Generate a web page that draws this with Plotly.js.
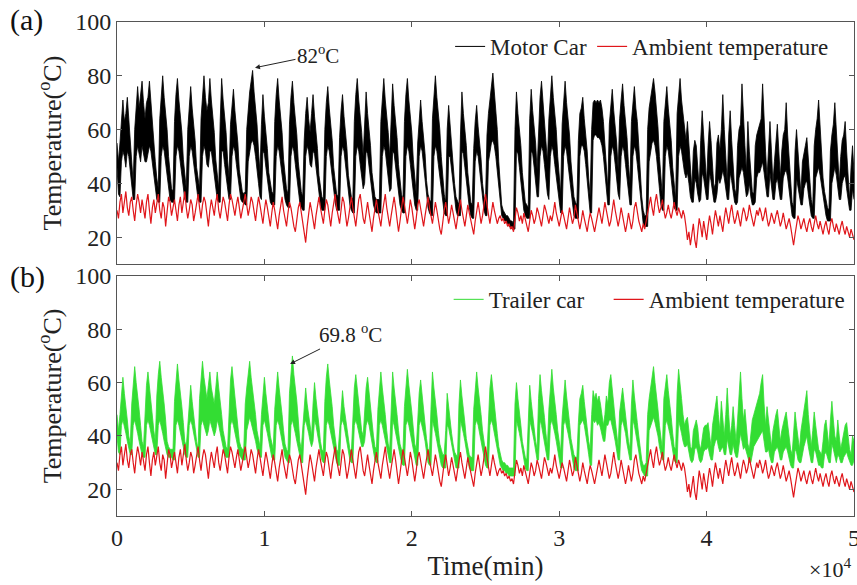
<!DOCTYPE html>
<html>
<head>
<meta charset="utf-8">
<script src="https://cdn.plot.ly/plotly-3.0.1.min.js"></script>
<style>html,body{margin:0;padding:0;background:#fff}#chart{width:857px;height:585px}</style>
</head>
<body>
<div id="chart"></div>
<script>
// Sampling bin of the recorded series (min); dense records shown as per-bin max / min envelope
const stepMin = 100;

// Motor car temperature (°C): per-bin maximum, 0..50000 min
const motorCarMax = [
55,48,55,65,71,63,66,72,64,58,
48,40,60,70,76,68,72,78,70,64,
70,72,78,70,65,58,48,42,38,64,
74,80,72,67,60,50,42,38,37,63,
73,79,71,66,59,49,42,38,60,70,
76,68,63,56,46,42,38,64,74,80,
72,67,70,79,71,66,59,49,42,38,
63,79,71,66,59,49,42,62,69,75,
67,62,55,45,40,37,36,37,60,68,
74,78,82,74,68,62,52,44,62,73,
65,60,53,44,40,37,36,63,73,79,
71,66,59,49,42,38,36,62,72,78,
70,65,58,48,41,37,35,56,66,72,
64,59,66,73,65,60,53,43,38,35,
34,60,70,76,68,63,56,46,40,36,
35,57,67,73,65,60,53,43,38,35,
34,63,73,79,71,66,59,50,66,74,
66,61,54,44,38,35,34,34,34,63,
73,79,71,66,59,50,66,77,69,64,
57,47,40,36,34,63,73,79,71,66,
59,49,41,36,55,65,71,63,58,51,
41,36,34,33,64,74,80,72,67,60,
50,42,36,33,60,69,61,56,49,40,
35,33,32,58,74,66,61,54,44,37,
33,32,53,63,69,61,56,49,40,35,
33,58,66,72,76,81,74,68,60,48,
38,32,30,29,28,28,27,26,26,25,
60,74,66,61,54,44,37,33,32,31,
64,75,67,62,55,45,62,72,78,70,
65,58,48,64,74,80,72,67,60,50,
42,36,62,72,78,70,65,58,48,40,
35,33,32,56,66,68,72,64,59,52,
42,35,60,70,71,70,71,70,71,68,
63,55,45,38,62,69,75,67,62,55,
45,64,71,77,69,64,57,47,40,63,
70,76,68,63,54,44,35,30,28,28,
60,68,72,74,79,74,68,61,50,40,
35,63,70,76,68,63,56,46,38,34,
66,73,79,71,66,60,56,63,54,44,
38,52,56,54,46,38,56,67,58,48,
40,54,63,56,46,38,40,55,58,52,
60,73,60,50,40,58,67,56,46,38,
36,54,60,62,77,62,54,44,63,52,
44,37,36,54,58,60,62,64,77,62,
52,42,56,63,52,40,48,56,62,52,
42,52,58,60,70,58,48,38,33,31,
52,60,52,42,36,48,52,54,57,48,
40,34,31,54,60,64,71,60,52,42,
37,33,31,30,52,58,62,70,60,50,
40,50,56,58,63,52,42,34,46,54,
44
];

// Motor car temperature (°C): per-bin minimum
const motorCarMin = [
46,36,35,48,52,50,46,52,50,44,
38,34,34,50,54,50,48,54,50,48,
48,52,54,52,47,42,37,34,33,33,
50,54,52,47,42,37,34,33,33,33,
50,54,52,47,42,37,34,33,33,50,
54,52,47,42,37,34,33,33,50,54,
52,47,46,52,52,47,42,37,34,33,
33,52,52,47,42,37,34,34,50,54,
52,47,42,37,34,33,33,32,32,48,
52,55,56,54,50,46,40,35,34,52,
51,46,41,36,33,32,32,32,50,54,
52,47,42,37,34,32,31,31,50,54,
52,47,42,37,33,31,30,30,50,54,
52,47,46,52,51,46,41,36,32,30,
30,30,50,54,52,47,42,37,33,30,
30,30,50,54,52,47,42,36,32,30,
29,29,50,54,52,47,42,38,40,52,
51,46,41,36,32,30,29,29,29,29,
50,54,52,47,42,37,38,52,51,46,
41,36,32,30,29,29,50,54,52,47,
42,37,32,30,30,50,54,52,47,42,
36,31,29,28,28,50,54,52,47,42,
37,32,29,28,28,50,50,45,40,34,
30,28,28,28,52,51,46,41,35,31,
28,27,27,48,52,50,45,40,34,30,
28,28,48,52,55,56,54,50,44,37,
31,28,27,26,26,25,24,24,23,23,
23,52,51,46,41,35,30,28,27,27,
27,52,51,46,41,35,35,50,54,52,
47,42,36,34,50,54,52,47,42,37,
32,29,29,50,54,52,47,42,36,31,
28,27,27,27,50,54,54,52,47,41,
35,29,29,56,58,58,57,57,56,54,
50,44,37,32,32,50,54,52,47,42,
36,34,50,54,52,47,42,36,32,32,
50,54,52,47,41,34,28,25,24,24,
24,48,52,55,56,54,50,45,38,32,
30,30,50,54,52,47,42,36,31,30,
30,50,54,52,47,44,42,44,40,35,
33,33,42,40,36,33,34,44,42,37,
34,34,44,41,36,33,33,36,42,40,
42,45,42,37,34,34,44,41,36,33,
32,33,42,44,46,44,40,35,36,40,
35,32,32,33,42,44,44,46,48,44,
39,35,35,44,39,34,34,40,42,38,
34,34,42,44,45,42,37,31,28,27,
27,42,39,35,32,32,38,40,41,36,
32,28,27,27,42,44,46,43,39,35,
32,28,26,26,26,40,44,46,43,38,
34,34,40,42,43,38,34,30,30,38,
34
];

// Trailer car temperature (°C): per-bin maximum
const trailerCarMax = [
48,42,48,57,62,56,52,46,40,37,
52,60,66,60,56,50,44,38,36,50,
59,64,58,54,48,42,38,55,63,68,
62,58,52,46,38,36,35,35,35,53,
62,67,61,57,51,45,38,36,45,54,
59,53,49,43,38,35,54,63,68,62,
58,54,59,64,58,55,52,58,64,58,
54,48,42,38,36,35,52,61,66,60,
56,50,44,38,36,35,35,52,58,63,
68,62,58,54,48,42,38,36,48,57,
62,56,52,46,40,37,35,50,59,64,
58,54,48,42,37,35,34,56,64,70,
63,59,53,46,38,35,44,53,58,52,
48,44,40,52,60,54,50,44,38,35,
34,53,62,67,61,57,51,44,38,35,
34,43,52,57,51,47,42,38,35,34,
49,58,63,57,53,47,42,40,52,58,
62,56,52,46,40,36,35,50,59,64,
58,54,48,42,37,35,50,64,58,54,
48,42,37,35,34,51,60,65,59,55,
49,43,37,35,47,56,61,55,51,45,
39,35,34,50,64,58,54,48,42,37,
35,33,33,42,56,50,46,41,37,34,
33,32,52,61,55,51,45,39,35,33,
32,32,50,59,64,58,54,48,42,37,
34,33,49,58,63,57,53,47,41,36,
33,31,30,30,29,29,28,28,28,28,
52,60,54,50,44,38,34,32,31,45,
59,53,49,43,38,35,54,63,57,53,
47,41,36,50,60,65,58,54,48,42,
37,34,47,56,61,55,51,45,39,35,
33,32,32,45,54,56,59,53,49,43,
38,35,48,57,54,56,53,55,52,48,
44,48,55,52,60,63,56,52,46,40,
36,49,55,58,53,49,43,38,35,52,
61,55,51,45,40,35,31,29,29,30,
48,54,58,62,66,60,56,50,44,38,
35,54,58,63,57,53,47,41,36,35,
56,65,58,54,48,44,46,47,42,36,
35,42,44,46,43,37,35,40,43,44,
44,45,40,36,44,48,52,55,48,42,
53,47,40,48,58,48,40,44,51,44,
38,46,56,64,54,46,50,43,37,35,
40,46,48,50,52,54,56,60,63,52,
44,51,46,40,36,42,46,48,50,44,
38,42,45,47,49,44,38,35,33,40,
49,44,38,35,42,46,50,54,57,48,
40,36,42,49,44,38,35,34,33,38,
44,46,40,36,46,53,46,40,38,46,
40,35,38,42,44,45,40,35,33,40,
38
];

// Trailer car temperature (°C): per-bin minimum
const trailerCarMin = [
40,34,33,44,46,44,41,38,35,33,
33,44,46,44,41,38,35,33,32,32,
44,46,44,41,38,35,33,33,44,46,
44,41,38,35,33,32,32,32,31,31,
44,46,44,41,38,35,33,32,32,44,
46,44,41,37,34,32,32,44,46,44,
41,40,42,46,44,42,40,42,46,44,
41,38,35,33,32,32,32,44,46,44,
41,38,35,33,32,31,31,31,42,45,
47,45,43,41,38,35,33,32,32,44,
46,44,41,38,35,32,31,31,44,46,
44,41,38,35,32,31,30,30,44,46,
44,41,38,35,32,30,30,44,46,44,
41,38,36,38,46,44,41,38,34,31,
30,30,44,46,44,41,38,35,32,30,
29,29,44,46,44,41,37,34,31,30,
30,44,46,44,41,38,36,36,38,44,
46,44,41,38,35,31,30,30,44,46,
44,41,38,35,32,30,30,46,44,41,
38,35,32,30,29,29,44,46,44,41,
38,35,31,29,29,44,46,44,41,38,
34,30,29,29,46,44,41,38,35,31,
29,28,28,28,44,43,40,37,33,30,
28,28,28,46,44,41,38,34,30,28,
27,27,27,44,46,44,41,38,34,31,
29,28,28,44,46,44,41,38,34,31,
29,28,27,27,26,26,25,25,25,25,
25,46,44,41,38,34,30,28,27,27,
46,44,41,38,34,31,31,46,44,41,
38,34,31,31,44,46,44,41,38,34,
30,28,28,44,46,44,41,38,34,30,
28,27,27,27,44,45,46,44,41,37,
33,29,29,46,45,46,44,45,43,40,
38,38,44,44,46,46,44,41,38,34,
31,31,44,46,44,41,37,33,31,31,
46,44,41,38,34,30,27,26,25,25,
25,42,44,46,47,45,43,40,36,33,
31,31,44,46,44,41,38,34,31,30,
30,46,44,41,38,36,36,37,34,31,
30,31,35,36,34,31,30,31,34,35,
35,36,33,31,31,36,38,39,36,34,
35,36,33,33,39,36,33,33,37,34,
32,32,38,41,38,35,36,34,31,30,
30,34,36,37,38,39,40,41,42,38,
34,34,35,32,30,30,34,35,36,34,
31,31,34,35,36,34,31,29,28,28,
35,34,31,30,30,34,36,38,40,36,
32,30,30,35,34,31,29,29,28,28,
33,34,32,30,30,37,35,32,30,33,
32,30,30,32,33,34,32,30,29,29,
31
];

// Ambient temperature (°C), one value every 100 min (same record in both panels)
const ambient = [
30,27,33,36,29,34,37,31,28,33,
35,30,26,32,36,33,29,34,31,27,
33,36,30,25,31,34,29,32,36,30,
27,33,31,24,30,35,33,28,31,34,
30,26,32,35,29,33,37,31,27,30,
34,32,26,29,33,36,31,27,32,35,
33,29,24,30,34,31,28,33,36,30,
27,31,35,33,29,26,32,36,34,30,
28,32,35,31,27,30,34,36,32,28,
31,35,33,29,26,31,35,32,28,25,
30,34,31,27,24,29,33,30,26,23,
28,32,35,30,26,24,29,33,31,27,
24,22,27,31,33,29,25,21,18,24,
29,33,30,26,23,28,32,35,31,27,
25,30,34,32,28,24,29,33,36,31,
27,25,30,35,33,28,24,27,32,35,
31,27,24,29,34,36,31,27,25,30,
33,29,26,22,27,31,34,30,26,24,
29,33,36,31,27,24,28,32,35,31,
27,22,26,31,35,32,28,25,29,34,
31,27,23,27,32,34,30,26,24,28,
32,35,31,27,25,29,33,30,26,23,
21,26,30,33,29,25,28,32,29,25,
23,27,31,34,30,26,24,28,32,29,
26,24,21,26,30,33,29,25,28,32,
36,32,28,25,29,33,30,27,25,27,
28,26,27,25,26,24,25,23,24,22,
27,31,29,26,28,25,29,27,24,22,
26,30,28,25,27,31,29,26,24,28,
32,30,27,25,28,26,29,33,29,26,
24,27,30,28,25,23,27,31,28,25,
27,32,29,26,23,26,30,27,24,22,
26,29,27,24,22,25,28,31,28,25,
29,33,30,27,24,26,31,34,30,26,
24,27,31,28,25,22,25,29,26,23,
26,31,33,29,26,24,22,25,23,26,
29,32,35,31,28,33,36,32,29,31,
34,30,27,29,32,29,27,30,33,30,
28,31,29,27,30,28,24,19,22,17,
21,25,19,16,22,27,24,20,26,23,
19,24,28,25,21,26,30,27,24,28,
25,22,27,31,28,25,29,32,28,25,
27,30,27,24,28,31,29,26,28,32,
29,26,24,27,30,28,31,29,26,28,
31,27,24,26,29,27,25,28,30,27,
24,26,29,26,23,25,27,24,20,17,
21,25,28,26,23,25,27,24,22,25,
27,24,22,25,28,25,23,26,24,21,
24,26,23,21,25,27,24,22,25,23,
21,24,26,23,21,24,22,20,23,21,
19
];

const xTickVals = [0, 10000, 20000, 30000, 40000, 50000];
const xTickText = ['0', '1', '2', '3', '4', '5'];
const yTickVals = [20, 40, 60, 80, 100];

const tAxis = arr => arr.map((_, i) => i * stepMin);

const FONT = 'Liberation Serif, Times New Roman, serif';
const BLACK = '#000000';
const RED = '#e0161b';
const GREEN = '#33dd33';

const traces = [
  // panel (a)
  {x: tAxis(motorCarMin), y: motorCarMin, type: 'scatter', mode: 'lines', showlegend: false, hoverinfo: 'skip',
   line: {color: BLACK, width: 0.8}, xaxis: 'x', yaxis: 'y'},
  {x: tAxis(motorCarMax), y: motorCarMax, type: 'scatter', mode: 'lines', showlegend: false, fill: 'tonexty',
   fillcolor: BLACK, line: {color: BLACK, width: 0.8}, xaxis: 'x', yaxis: 'y'},
  {x: [null], y: [null], type: 'scatter', mode: 'lines', name: 'Motor Car', line: {color: BLACK, width: 1},
   xaxis: 'x', yaxis: 'y', legend: 'legend', legendwidth: 97},
  {x: tAxis(ambient), y: ambient, type: 'scatter', mode: 'lines', name: 'Ambient temperature',
   line: {color: RED, width: 1.2}, xaxis: 'x', yaxis: 'y', legend: 'legend'},
  // panel (b)
  {x: tAxis(trailerCarMin), y: trailerCarMin, type: 'scatter', mode: 'lines', showlegend: false, hoverinfo: 'skip',
   line: {color: GREEN, width: 0.8}, xaxis: 'x2', yaxis: 'y2'},
  {x: tAxis(trailerCarMax), y: trailerCarMax, type: 'scatter', mode: 'lines', showlegend: false, fill: 'tonexty',
   fillcolor: GREEN, line: {color: GREEN, width: 0.8}, xaxis: 'x2', yaxis: 'y2'},
  {x: [null], y: [null], type: 'scatter', mode: 'lines', name: 'Trailer car', line: {color: GREEN, width: 1},
   xaxis: 'x2', yaxis: 'y2', legend: 'legend2', legendwidth: 115},
  {x: tAxis(ambient), y: ambient, type: 'scatter', mode: 'lines', name: 'Ambient temperature',
   line: {color: RED, width: 1.2}, xaxis: 'x2', yaxis: 'y2', legend: 'legend2'}
];

const axBase = {
  showline: true, linecolor: '#555', linewidth: 1, mirror: 'ticks',
  ticks: 'inside', ticklen: 5, tickcolor: '#555', showgrid: false, zeroline: false,
  tickfont: {family: FONT, size: 24, color: '#222'}
};

const yTitle = {text: 'Temperature(<sup>o</sup>C)', font: {family: FONT, size: 26, color: '#222'}, standoff: 6};

const legendBase = {
  orientation: 'h', bgcolor: 'rgba(0,0,0,0)', borderwidth: 0,
  font: {family: FONT, size: 23, color: '#222'}, itemwidth: 30,
  xanchor: 'left', yanchor: 'top', traceorder: 'normal'
};

const layout = {
  width: 857, height: 585,
  margin: {l: 117, r: 3, t: 22, b: 69},
  paper_bgcolor: '#fff', plot_bgcolor: '#fff',
  font: {family: FONT, color: '#222'},
  xaxis: Object.assign({}, axBase, {domain: [0, 1], range: [0, 50000], tickvals: xTickVals, ticktext: xTickText, showticklabels: false, anchor: 'y'}),
  yaxis: Object.assign({}, axBase, {domain: [0.510, 1], range: [10, 100], tickvals: yTickVals, title: yTitle, anchor: 'x'}),
  xaxis2: Object.assign({}, axBase, {domain: [0, 1], range: [0, 50000], tickvals: xTickVals, ticktext: xTickText, anchor: 'y2',
    ticklabeloverflow: 'allow',
    title: {text: 'Time(min)', font: {family: FONT, size: 27, color: '#222'}, standoff: 6}}),
  yaxis2: Object.assign({}, axBase, {domain: [0, 0.486], range: [10, 100], tickvals: yTickVals, title: yTitle, anchor: 'x2'}),
  legend: Object.assign({}, legendBase, {x: 0.452, y: 0.994}),
  legend2: Object.assign({}, legendBase, {x: 0.45, y: 0.482}),
  showlegend: true,
  annotations: [
    {xref: 'paper', yref: 'paper', x: -0.148, y: 1.004, text: '(a)', showarrow: false, xanchor: 'left', yanchor: 'middle',
     font: {family: FONT, size: 30, color: '#111'}},
    {xref: 'paper', yref: 'paper', x: -0.148, y: 0.484, text: '(b)', showarrow: false, xanchor: 'left', yanchor: 'middle',
     font: {family: FONT, size: 30, color: '#111'}},
    {xref: 'x', yref: 'y', x: 9360, y: 83, text: '82<sup>o</sup>C', showarrow: true, arrowhead: 2, arrowsize: 1, arrowwidth: 1,
     arrowcolor: '#222', ax: 63, ay: -13, font: {family: FONT, size: 21, color: '#222'}},
    {xref: 'x2', yref: 'y2', x: 11740, y: 67, text: '69.8 <sup>o</sup>C', showarrow: true, arrowhead: 2, arrowsize: 1, arrowwidth: 1,
     arrowcolor: '#222', ax: 60, ay: -30, font: {family: FONT, size: 21, color: '#222'}},
    {xref: 'paper', yref: 'paper', x: 0.9986, y: -0.138, text: '×10<sup>4</sup>', showarrow: false, xanchor: 'right', yanchor: 'bottom',
     font: {family: FONT, size: 22, color: '#222'}}
  ]
};

Plotly.newPlot('chart', traces, layout, {displayModeBar: false, staticPlot: true});
</script>
</body>
</html>
